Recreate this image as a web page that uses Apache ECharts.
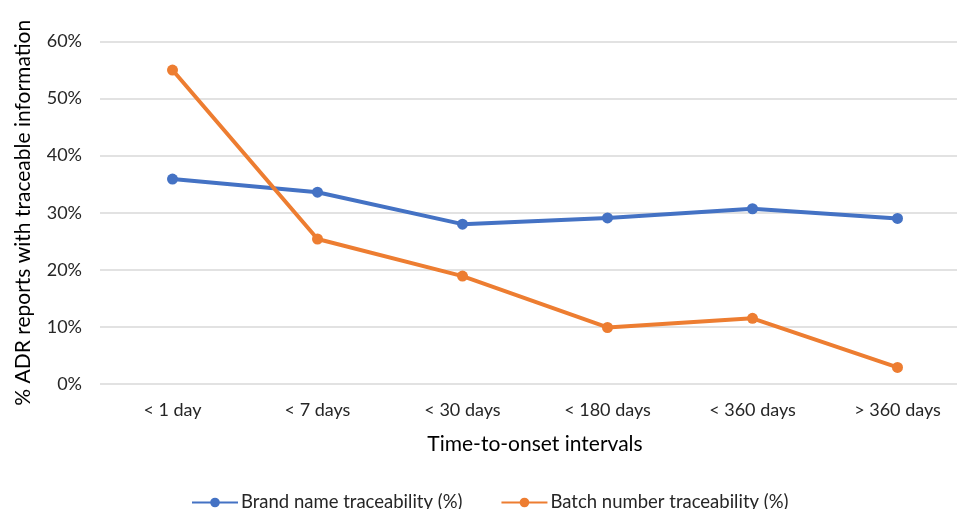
<!DOCTYPE html>
<html><head><meta charset="utf-8">
<script src="https://cdn.jsdelivr.net/npm/echarts@6/dist/echarts.min.js"></script>
<style>html,body{margin:0;padding:0;background:#fff;overflow:hidden}#c{width:975px;height:509px}</style>
</head><body><div id="c"></div>
<script>
const categories = ['< 1 day', '< 7 days', '< 30 days', '< 180 days', '< 360 days', '> 360 days'];
const brandName = [35.9, 33.6, 28.0, 29.1, 30.7, 29.0];
const batchNumber = [55.0, 25.4, 18.9, 9.9, 11.5, 2.9];
const yTicks = [0, 10, 20, 30, 40, 50, 60];

const font = 'Lato, "Open Sans", sans-serif';
const chart = echarts.init(document.getElementById('c'), null, {renderer: 'canvas'});
chart.setOption({
  animation: false,
  textStyle: {fontFamily: font},
  grid: {left: 100, width: 870, top: 41.5, height: 342.5},
  legend: {
    top: 488, left: 186, itemGap: 38, itemWidth: 46, itemHeight: 12,
    textStyle: {fontFamily: font, fontSize: 18.5, color: '#262626', padding: [0, 0, 0, -2]},
    data: ['Brand name traceability (%)', 'Batch number traceability (%)']
  },
  xAxis: {
    type: 'category', data: categories, boundaryGap: true,
    axisLine: {show: false}, axisTick: {show: false},
    axisLabel: {fontFamily: font, fontSize: 18, color: '#262626', margin: 17},
    name: 'Time-to-onset intervals', nameLocation: 'middle', nameGap: 50,
    nameTextStyle: {fontFamily: font, fontSize: 21, color: '#000'}
  },
  yAxis: {
    type: 'value', min: yTicks[0], max: yTicks[yTicks.length - 1], interval: 10,
    axisLine: {show: false}, axisTick: {show: false},
    axisLabel: {fontFamily: font, fontSize: 18, color: '#262626', margin: 18, formatter: v => v + '%'},
    splitLine: {lineStyle: {color: '#d9d9d9', width: 1.5}},
    name: '% ADR reports with traceable information', nameLocation: 'middle', nameGap: 66,
    nameTextStyle: {fontFamily: font, fontSize: 21, color: '#000'}
  },
  series: [
    {name: 'Brand name traceability (%)', type: 'line', data: brandName,
     symbol: 'circle', symbolSize: 11,
     lineStyle: {color: '#4472C4', width: 4}, itemStyle: {color: '#4472C4'}},
    {name: 'Batch number traceability (%)', type: 'line', data: batchNumber,
     symbol: 'circle', symbolSize: 11,
     lineStyle: {color: '#ED7D31', width: 4}, itemStyle: {color: '#ED7D31'}}
  ]
});
</script></body></html>
